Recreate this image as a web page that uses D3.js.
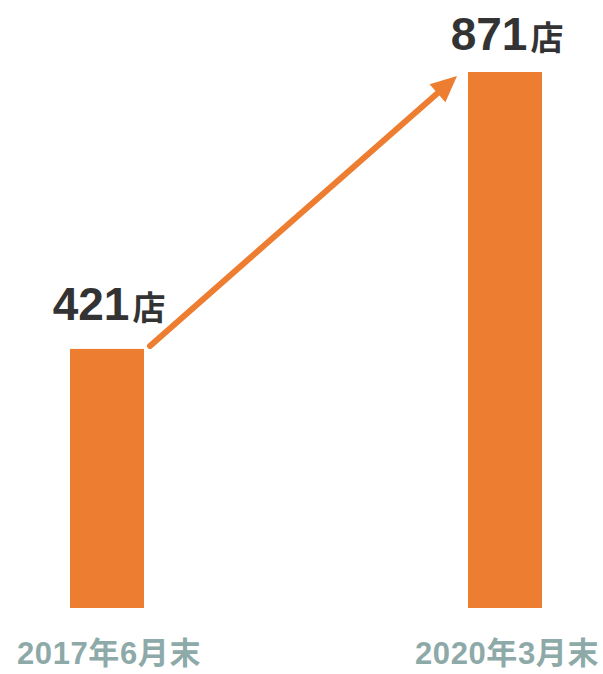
<!DOCTYPE html>
<html><head><meta charset="utf-8">
<script src="https://cdn.jsdelivr.net/npm/d3@7"></script>
<style>body{margin:0;background:#fff}svg{display:block}</style>
</head><body>
<script>
const categories = ["2017年6月末", "2020年3月末"];
const values = [421, 871];
const unit = "店";

const W = 603, H = 674;
const svg = d3.select("body").append("svg").attr("width", W).attr("height", H);
const orange = "#ED7D31";

const x = d3.scalePoint().domain(categories).range([107, 505]);
const y = d3.scaleLinear().domain([0, 871]).range([608, 72]);
const bw = 74;

svg.selectAll("rect.bar").data(values).join("rect")
  .attr("class", "bar")
  .attr("x", (d, i) => x(categories[i]) - bw / 2)
  .attr("y", d => y(d))
  .attr("width", bw)
  .attr("height", d => y(0) - y(d))
  .attr("fill", orange);

// value labels
const vl = svg.selectAll("text.val").data(values).join("text")
  .attr("class", "val")
  .attr("x", (d, i) => x(categories[i]) + 2)
  .attr("y", d => Math.max(y(d) - 29, 50))
  .attr("text-anchor", "middle")
  .attr("fill", "#333333")
  .attr("font-family", "'Liberation Sans', Arial, sans-serif")
  .attr("font-weight", "bold");
vl.append("tspan").attr("font-size", 46).text(d => d);
vl.append("tspan").attr("font-size", 33).attr("font-family", "'Noto Sans CJK JP', sans-serif").attr("font-weight", "bold").attr("dx", 3).text(unit);

// category labels
const cl = svg.selectAll("text.cat").data(categories).join("text")
  .attr("class", "cat")
  .attr("x", d => x(d) + 2)
  .attr("y", 664)
  .attr("text-anchor", "middle")
  .attr("fill", "#8DA9A8")
  .attr("font-weight", "bold")
  .attr("letter-spacing", 0.6);
cl.each(function(d) {
  const t = d3.select(this);
  const parts = d.match(/[0-9]+|[^0-9]+/g);
  parts.forEach(p => {
    const isNum = /^[0-9]+$/.test(p);
    t.append("tspan")
      .attr("font-family", isNum ? "'Liberation Sans', Arial, sans-serif" : "'Noto Sans CJK JP', sans-serif")
      .attr("font-size", 31)
      .text(p);
  });
});

// arrow
const x0 = x(categories[0]) + bw / 2 + 6, y0 = y(values[0]) - 3;
const x1 = x(categories[1]) - bw / 2 - 11, y1 = y(values[1]) + 4;
const ang = Math.atan2(y1 - y0, x1 - x0);
const headLen = 26, headW = 12;
const bx = x1 - headLen * Math.cos(ang), by = y1 - headLen * Math.sin(ang);
svg.append("line")
  .attr("x1", x0).attr("y1", y0)
  .attr("x2", bx + 3 * Math.cos(ang)).attr("y2", by + 3 * Math.sin(ang))
  .attr("stroke", orange).attr("stroke-width", 6).attr("stroke-linecap", "round");
const px = -Math.sin(ang), py = Math.cos(ang);
svg.append("path")
  .attr("d", `M${x1},${y1}L${bx + px * headW},${by + py * headW}L${bx - px * headW},${by - py * headW}Z`)
  .attr("fill", orange);
</script>
</body></html>
